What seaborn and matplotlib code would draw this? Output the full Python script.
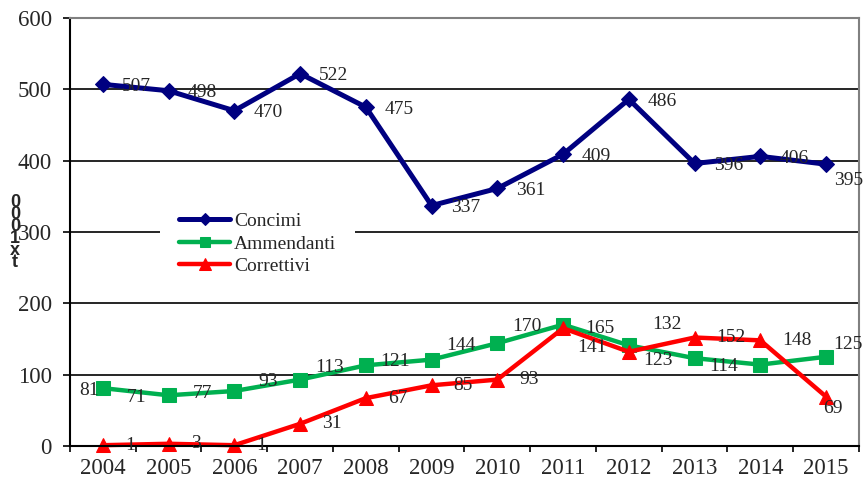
import numpy as np
import pandas as pd
import matplotlib
matplotlib.use('Agg')
import matplotlib.pyplot as plt
import seaborn as sns

years = ['2004', '2005', '2006', '2007', '2008', '2009', '2010', '2011', '2012', '2013', '2014', '2015']
concimi = [507, 498, 470, 522, 475, 337, 361, 409, 486, 396, 406, 395]
ammendanti = [81, 71, 77, 93, 113, 121, 144, 170, 141, 123, 114, 125]
correttivi = [1, 3, 1, 31, 67, 85, 93, 165, 132, 152, 148, 69]

sns.set_style('white')
plt.rcParams['font.family'] = ['Liberation Serif', 'DejaVu Serif']

PX = 0.72  # pixel -> points at 100 dpi

fig = plt.figure(figsize=(8.64, 4.8), dpi=100)
ax = fig.add_axes([0.081, 0.071, 0.9132, 0.8915])

x_pos = np.arange(len(years))

sns.lineplot(x=x_pos, y=concimi, ax=ax, color='#000080', lw=3.6, marker='D',
             markersize=8, mec='#000080', mfc='#000080', label='Concimi', clip_on=False)
sns.lineplot(x=x_pos, y=ammendanti, ax=ax, color='#00B050', lw=3.2, marker='s',
             markersize=9.5, mec='#00B050', mfc='#00B050', label='Ammendanti', clip_on=False)
sns.lineplot(x=x_pos, y=correttivi, ax=ax, color='#FF0000', lw=3.2, marker='^',
             markersize=10.5, mec='#FF0000', mfc='#FF0000', label='Correttivi', clip_on=False)

# data labels (offsets in pixels)
def put_labels(vals, dx, dy, ha, special):
    for i, v in enumerate(vals):
        ddx, ddy, hh = dx, dy, ha
        if i in special:
            ddx, ddy, hh = special[i]
        ax.annotate(str(v), (x_pos[i], v), xytext=(ddx * PX, ddy * PX),
                    textcoords='offset points', ha=hh, va='center', fontsize=14)

put_labels(concimi, 19, -2, 'left', {11: (8, -16, 'left')})
put_labels(ammendanti, -22, -2, 'right', {0: (-4, -2, 'right'), 11: (7, 12, 'left')})
put_labels(correttivi, 22, 0, 'left', {8: (23, 27, 'left'), 11: (7, -12, 'center')})

ax.set_xlim(-0.5, len(years) - 0.5)
ax.set_ylim(0, 600)
ax.set_yticks(range(0, 601, 100))
ax.set_xticks(np.arange(-0.5, len(years), 1.0))
ax.set_xticklabels([])
ax.set_xticks(x_pos, minor=True)
ax.set_xticklabels(years, minor=True)
ax.tick_params(axis='x', which='major', direction='out', length=4.5, width=1.2, color='black')
ax.tick_params(axis='x', which='minor', length=0, labelsize=16.5, pad=9)
ax.tick_params(axis='y', direction='out', length=5, width=1.2, color='black', labelsize=16.5, pad=8)
ax.xaxis.set_ticks_position('bottom')
ax.yaxis.set_ticks_position('left')

ax.yaxis.grid(True, color='black', lw=1.2)
ax.xaxis.grid(False)
ax.set_axisbelow(True)

for s in ['left', 'bottom']:
    ax.spines[s].set_color('black')
    ax.spines[s].set_linewidth(1.5)
for s in ['top', 'right']:
    ax.spines[s].set_color('#808080')
    ax.spines[s].set_linewidth(1.5)

leg = ax.legend(loc='center', bbox_to_anchor=(0.238, 0.472), fontsize=14, frameon=True,
                handlelength=2.6, handletextpad=0.2, labelspacing=0.25, borderpad=1.0,
                fancybox=False, markerscale=0.8)
leg.get_frame().set_facecolor('white')
leg.get_frame().set_edgecolor('none')
leg.get_frame().set_alpha(1)

fig.text(15 / 864, 0.515, '0\n0\n0\n1\nx\nt', ha='center', va='center', fontsize=13,
         fontweight='bold', linespacing=0.62, family=['Liberation Sans', 'DejaVu Sans'])

fig.savefig('out.png', dpi=100)
